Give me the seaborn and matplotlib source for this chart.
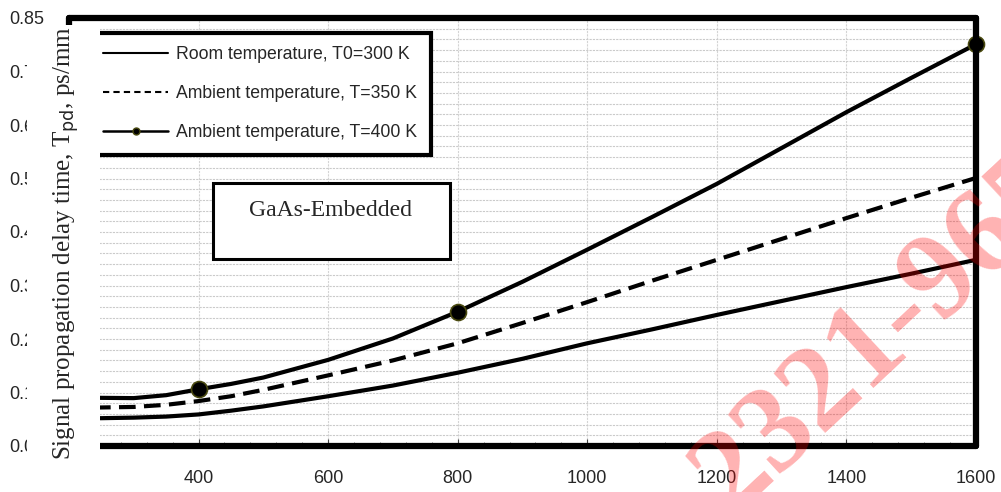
import numpy as np
import pandas as pd
import matplotlib
matplotlib.use("Agg")
import matplotlib.pyplot as plt
import seaborn as sns
from matplotlib.lines import Line2D
from matplotlib.patches import Rectangle
from matplotlib.ticker import MultipleLocator

# ---------------- data ----------------
length_um = [200, 250, 300, 350, 400, 450, 500, 600, 700, 800, 900, 1000,
             1100, 1200, 1300, 1400, 1500, 1600]
delay_300K = [0.052, 0.052, 0.053, 0.055, 0.059, 0.066, 0.074, 0.093, 0.113,
              0.137, 0.163, 0.192, 0.218, 0.245, 0.271, 0.297, 0.322, 0.348]
delay_350K = [0.071, 0.072, 0.073, 0.077, 0.084, 0.093, 0.105, 0.132, 0.160,
              0.192, 0.230, 0.269, 0.309, 0.348, 0.387, 0.426, 0.464, 0.501]
delay_400K = [0.091, 0.090, 0.0895, 0.095, 0.106, 0.116, 0.128, 0.161, 0.201,
              0.251, 0.307, 0.367, 0.428, 0.490, 0.557, 0.624, 0.688, 0.751]
marker_x = [400, 800, 1600]

labels = ["Room temperature, T0=300 K",
          "Ambient temperature, T=350 K",
          "Ambient temperature, T=400 K"]
y_ticks = [0.0, 0.1, 0.2, 0.3, 0.4, 0.5, 0.6, 0.7, 0.8]
y_tick_labels = ["0.0", "0.1", "0.2", "0.3", "0.4", "0.5", "0.6", "0.7", "0.85"]
x_ticks = [200, 400, 600, 800, 1000, 1200, 1400, 1600]

df = pd.DataFrame({"L": length_um, "T300": delay_300K,
                   "T350": delay_350K, "T400": delay_400K})

# ---------------- figure ----------------
sns.set_theme(style="white")
plt.rcParams["font.family"] = ["Liberation Sans", "DejaVu Sans"]

W, H = 1001, 492
fig = plt.figure(figsize=(W / 100, H / 100), dpi=100)
fig.patch.set_facecolor("white")

def fx(px):
    return px / W

def fy(py):
    return 1 - py / H

ax_l, ax_r, ax_t, ax_b = 69, 976, 18, 446
ax = fig.add_axes([fx(ax_l), fy(ax_b), fx(ax_r - ax_l), (ax_b - ax_t) / H])
ax.set_facecolor("white")

# grid
ax.yaxis.set_minor_locator(MultipleLocator(0.02))
ax.xaxis.set_minor_locator(MultipleLocator(40))
ax.grid(which="both", axis="y", color="#cacaca", linestyle=(0, (2, 1)), linewidth=0.8)
ax.grid(which="major", axis="x", color="#d4d4d4", linestyle=(0, (2, 1)), linewidth=0.8)
ax.set_axisbelow(True)

lw = 3.0
sns.lineplot(data=df, x="L", y="T300", ax=ax, color="black", linewidth=lw,
             sort=False, legend=False)
sns.lineplot(data=df, x="L", y="T350", ax=ax, color="black", linewidth=lw,
             sort=False, legend=False)
ax.lines[-1].set_dashes((4, 2))
sns.lineplot(data=df, x="L", y="T400", ax=ax, color="black", linewidth=lw,
             sort=False, legend=False)
idx = [length_um.index(v) for v in marker_x]
ln = ax.lines[-1]
ln.set_marker("o")
ln.set_markevery(idx)
ln.set_markersize(11.5)
ln.set_markerfacecolor("black")
ln.set_markeredgecolor("#4a4a10")
ln.set_markeredgewidth(1.2)
for l in ax.lines:
    l.set_clip_on(False)
    l.set_solid_capstyle("butt")
    l.set_solid_joinstyle("round")

ax.set_xlim(200, 1600)
ax.set_ylim(0, 0.8)
ax.set_xticks(x_ticks)
ax.set_yticks(y_ticks)
ax.set_yticklabels(y_tick_labels)
ax.set_xlabel("")
ax.set_ylabel("")

ax.tick_params(axis="x", which="major", direction="in", length=5, width=0.8,
               color="#444444", labelsize=13, pad=17, bottom=True)
ax.tick_params(axis="x", which="minor", direction="in", length=3, width=0.6,
               color="#666666", bottom=True)
ax.tick_params(axis="y", which="both", length=0, labelsize=13, pad=43.2)
for t in ax.get_yticklabels():
    t.set_horizontalalignment("left")

for s in ax.spines.values():
    s.set_visible(True)
    s.set_color("black")
    s.set_linewidth(4.5)
    s.set_capstyle("round")
    s.set_joinstyle("round")

# legend
handles = [
    Line2D([], [], color="black", lw=1.5),
    Line2D([], [], color="black", lw=1.5, dashes=(3, 2)),
    Line2D([], [], color="black", lw=1.8, marker="o", markersize=5,
           markerfacecolor="black", markeredgecolor="#4a4a10"),
]
leg = ax.legend(handles, labels, loc="upper left",
                bbox_to_anchor=(fx(90), fy(33)), bbox_transform=fig.transFigure,
                fontsize=12.7, frameon=True, fancybox=False, handlelength=3.7,
                handletextpad=0.45, labelspacing=1.25, borderpad=0.75,
                borderaxespad=0)
fr = leg.get_frame()
fr.set_edgecolor("black")
fr.set_linewidth(3.0)
fr.set_facecolor("white")
fr.set_alpha(1)
leg.set_zorder(10)

# annotation box
ax.add_patch(Rectangle((fx(213), fy(259)), fx(450 - 213), (259 - 183) / H,
                       transform=fig.transFigure, facecolor="white",
                       edgecolor="black", linewidth=2.2, zorder=11))
ax.text(fx(331), fy(211), "GaAs-Embedded", transform=fig.transFigure,
        ha="center", va="center", fontsize=17, family="Liberation Serif",
        zorder=12)

# white strip holding the y label (covers left spine and tick label tails)
fig.patches.append(Rectangle((fx(27), 0), fx(100 - 27), fy(25),
                             transform=fig.transFigure, facecolor="white",
                             edgecolor="none", zorder=5))
fig.text(fx(66), fy(243), "Signal propagation delay time, T$_{\\mathrm{pd}}$, ps/mm",
         rotation=90, ha="center", va="center", fontsize=18,
         family="Liberation Serif", zorder=6)

# watermark
fig.text(fx(732), fy(515), "2321-9653", rotation=43, ha="left", va="baseline",
         fontsize=88, family="Liberation Serif", fontweight="bold",
         color="red", alpha=0.3, zorder=20, rotation_mode="anchor")

fig.savefig("out.png", dpi=100)
